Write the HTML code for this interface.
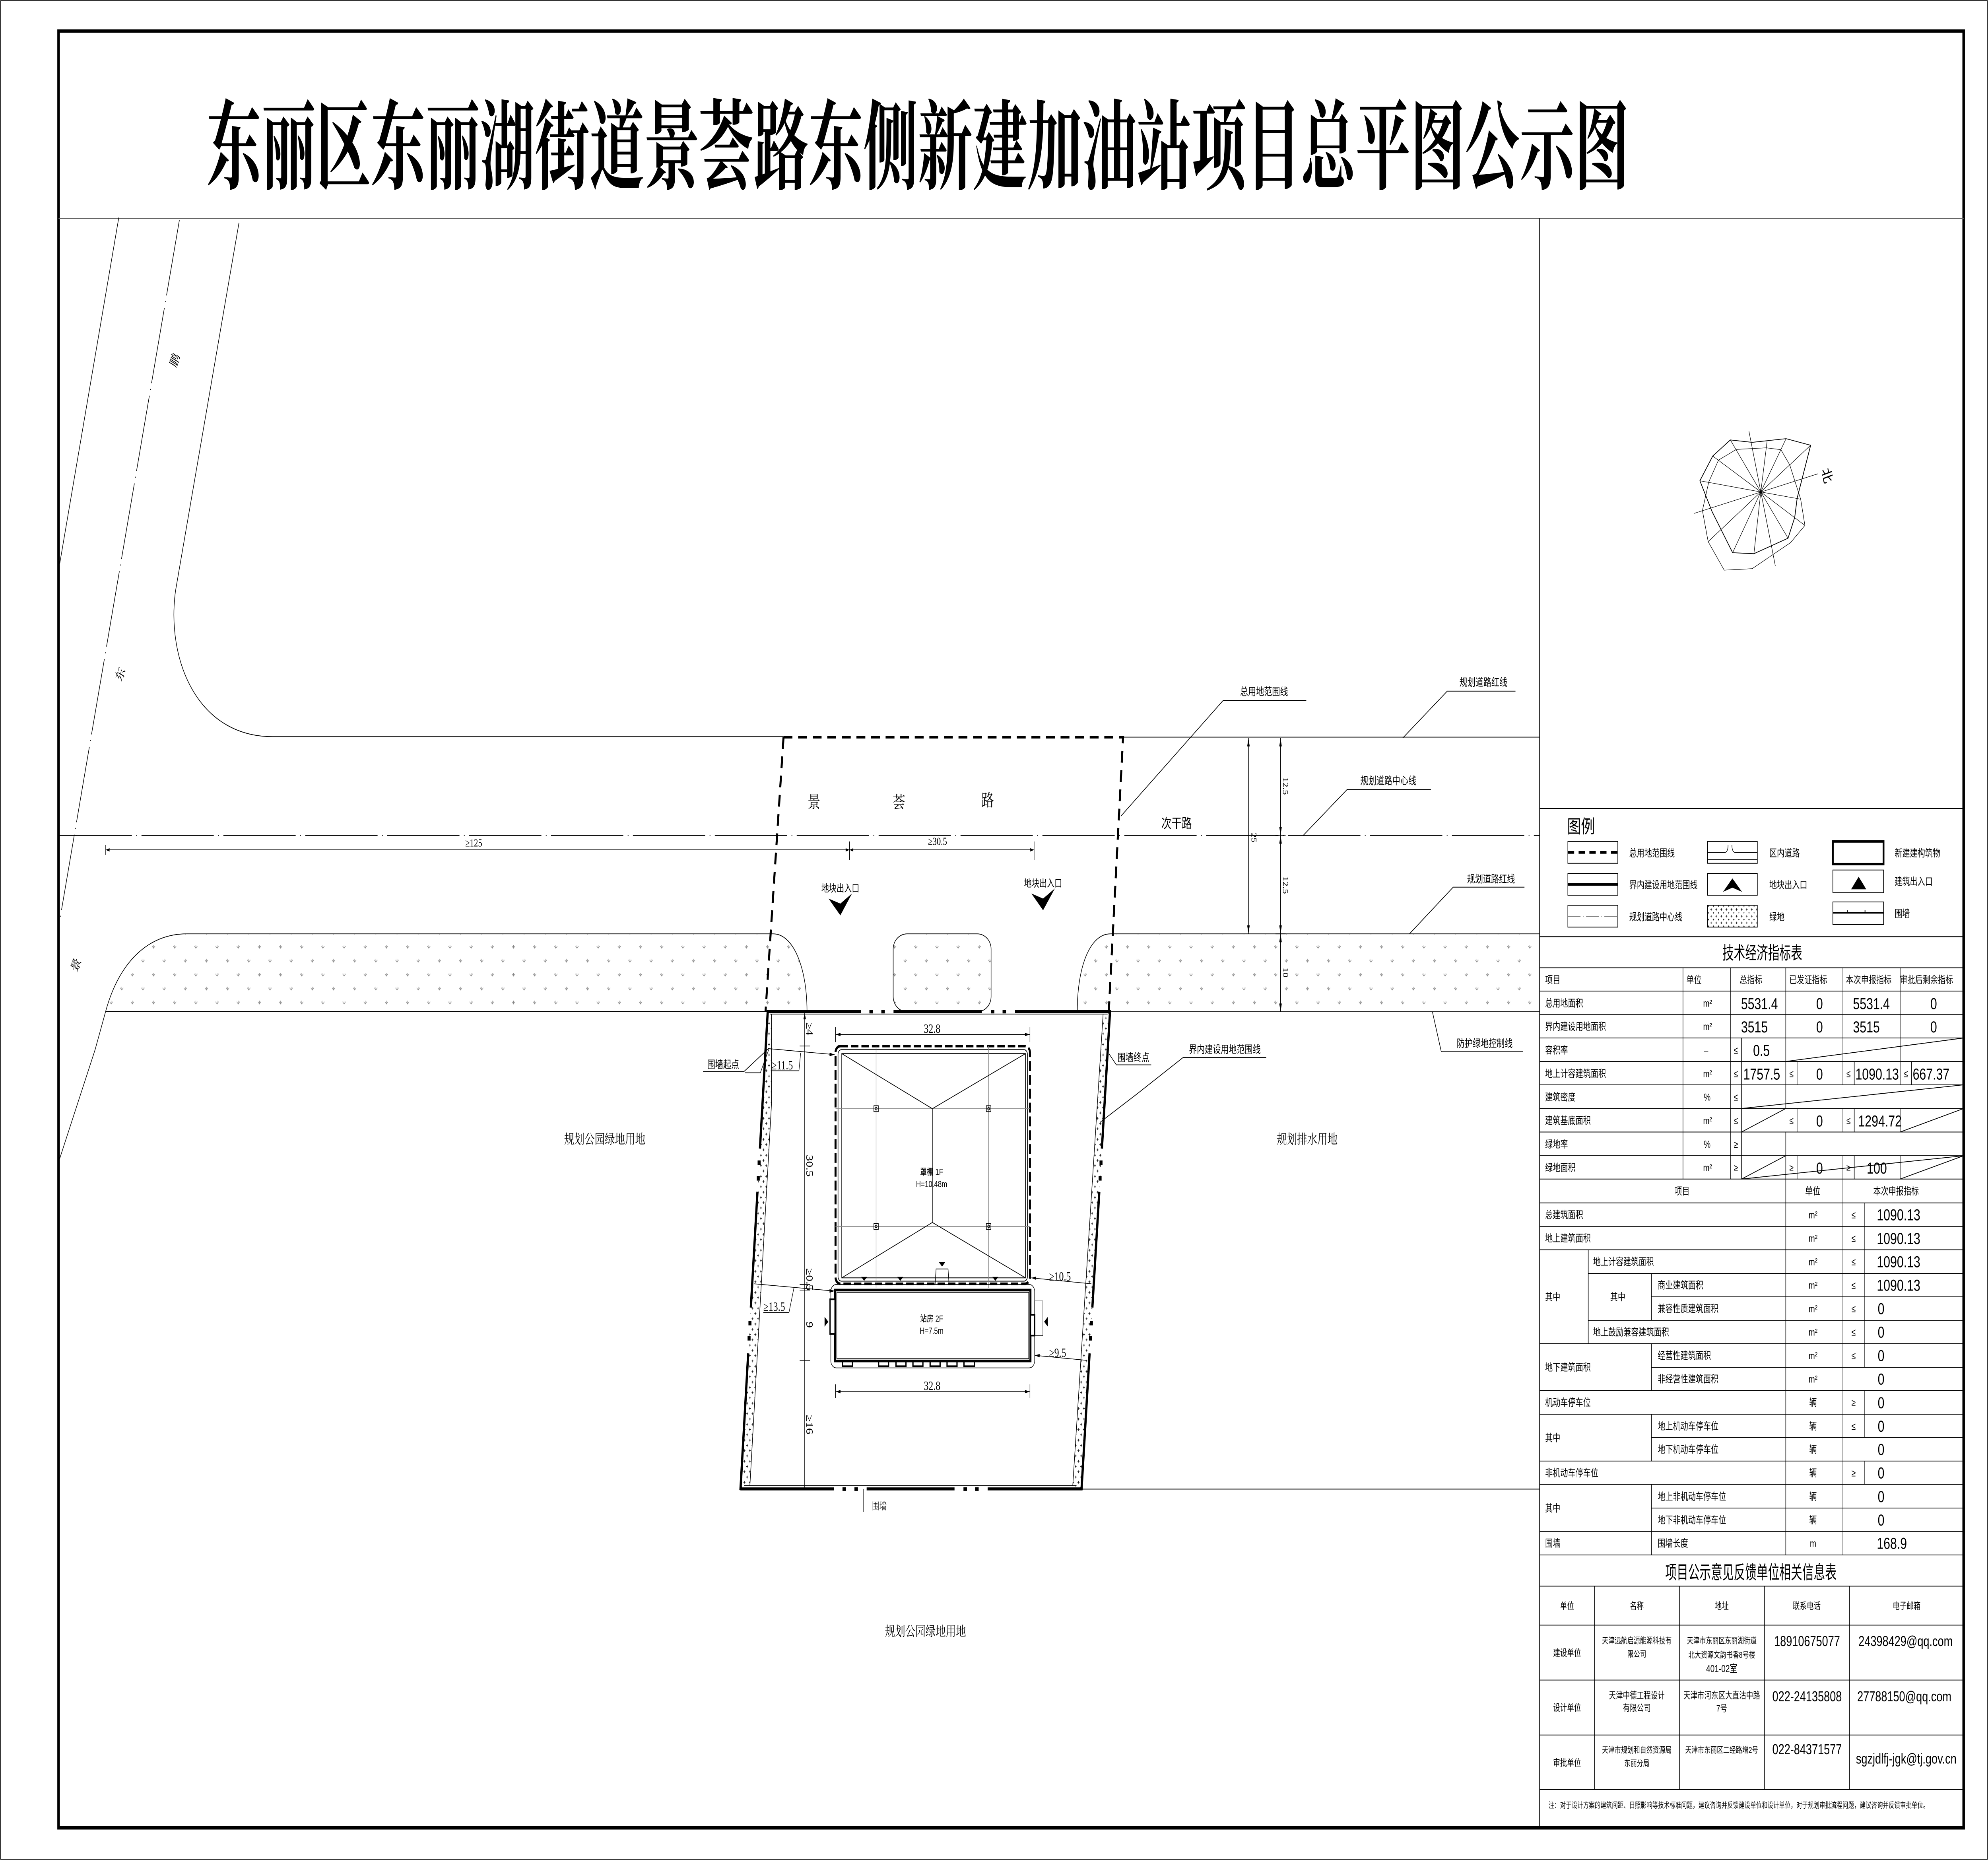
<!DOCTYPE html>
<html><head><meta charset="utf-8"><style>
html,body{margin:0;padding:0;background:#fff;overflow:hidden;width:100vw;height:100vh}
svg{display:block;position:fixed;left:0;top:0;width:100vw;height:100vh}
.s{font-family:"Liberation Sans","Noto Sans CJK SC",sans-serif}
.r{font-family:"Liberation Serif","Noto Serif CJK SC",serif}
.n{font-family:"Liberation Sans Narrow","Liberation Sans",sans-serif}
</style></head><body>
<svg xmlns="http://www.w3.org/2000/svg" viewBox="0 0 1568 1107.43" preserveAspectRatio="none">
<defs>
<pattern id="grass" patternUnits="userSpaceOnUse" width="16.7" height="16.6" patternTransform="translate(0,560)">
<path d="M3,3.2 L4.2,4.6 L5.4,3.2 M4.2,2.6 L4.2,4.6 M11.35,11.5 L12.55,12.9 L13.75,11.5 M12.55,10.9 L12.55,12.9" stroke="#888" stroke-width="0.35" fill="none"/>
</pattern>
<pattern id="plus" patternUnits="userSpaceOnUse" width="22" height="32">
<path d="M4,8 h8 M8,4 v8 M15,24 h8 M19,20 v8" stroke="#000" stroke-width="2"/>
</pattern>
<pattern id="plus2" patternUnits="userSpaceOnUse" width="4" height="4">
<path d="M1,1.5 h1.4 M1.7,0.8 v1.4 M3,3.5 h1 M3.5,3 v1" stroke="#000" stroke-width="0.3"/>
</pattern>
</defs>
<rect x="0" y="0" width="1568" height="1107.43" fill="#fff"/>
<rect x="0.4" y="0.4" width="1567.2" height="1106.6" fill="none" stroke="#000" stroke-width="0.4"/>
<rect x="46.2" y="18.5" width="1502.6" height="1069.8" fill="none" stroke="#000" stroke-width="2"/>
<line x1="46.2" y1="130" x2="1548.8" y2="130" stroke="#666" stroke-width="0.5"/>
<line x1="1214.3" y1="130" x2="1214.3" y2="1088.3" stroke="#000" stroke-width="0.5"/>
<text class="r" x="163" y="108" font-size="58" font-weight="700" textLength="1122" lengthAdjust="spacingAndGlyphs">东丽区东丽湖街道景荟路东侧新建加油站项目总平图公示图</text>

<g stroke="#000" stroke-width="0.45" fill="none">
<line x1="93.7" y1="129.5" x2="47.1" y2="335.6"/>
<line x1="141.5" y1="131" x2="47.1" y2="548" stroke-dasharray="46 3.5 0.6 3.5"/>
<path d="M188.5,132.6 L138.5,351.5 C131,392 155,438.6 215,438.6 L618,438.6"/>
<line x1="885.8" y1="438.9" x2="1214.3" y2="438.9"/>
<line x1="47" y1="497.5" x2="1214.3" y2="497.5" stroke-dasharray="57 3.5 0.6 3.5"/>
<line x1="83.4" y1="506" x2="815.6" y2="506"/>
<line x1="83.4" y1="503" x2="83.4" y2="509"/>
<line x1="670" y1="501" x2="670" y2="512"/>
<line x1="815.6" y1="501" x2="815.6" y2="512"/>
<path d="M147,556 L609.9,556"/>
<path d="M875.8,556 L1214.3,556"/>
<line x1="83.4" y1="602.2" x2="605.6" y2="602.2"/>
<line x1="853" y1="886.6" x2="1214.3" y2="886.6"/>
<line x1="874.5" y1="602.4" x2="1214.3" y2="602.4"/>
<path d="M83.4,602 L75,625 L47,690"/>
</g>
<g fill="#000">
<path d="M83.4,506 l3,-1 v2z M670,506 l-3,-1 v2z M670,506 l3,-1 v2z M815.6,506 l-3,-1 v2z"/>
</g>
<text class="r" x="367" y="504" font-size="6.5">≥125</text>
<text class="r" x="732" y="503" font-size="6.5">≥30.5</text>
<text class="r" x="136" y="221" font-size="8" transform="rotate(-65 136 218)">鹏</text>
<text class="r" x="93" y="408" font-size="8" transform="rotate(-65 93 405)">东</text>
<text class="r" x="58" y="581" font-size="8" transform="rotate(-65 58 578)">景</text>

<path d="M83.4,602 C95,570 120,556 147,556 L609.9,556 C625,556 636.5,575 636.5,602 Z" fill="url(#grass)" stroke="none"/>
<path d="M875.8,556 C860,556 849.7,575 849.7,602 L1214,602 L1214,556 Z" fill="url(#grass)" stroke="none"/>
<rect x="704.5" y="556" width="77.2" height="46.4" rx="11" ry="9" fill="url(#grass)" stroke="#000" stroke-width="0.45"/>
<g stroke="#000" stroke-width="0.45" fill="none">
<path d="M83.4,602 C95,570 120,556 147,556"/>
<path d="M609.9,556 C625,556 636.5,575 636.5,602"/>
<path d="M875.8,556 C860,556 849.7,575 849.7,602"/>
</g>

<path d="M618,438.9 L885.8,438.9 L874.5,602.4 M618,438.9 L603.8,602.2" fill="none" stroke="#000" stroke-width="1.6" stroke-dasharray="7 4.5"/>
<text class="r" x="642" y="481" font-size="10" text-anchor="middle">景</text>
<text class="r" x="709" y="481" font-size="10" text-anchor="middle">荟</text>
<text class="r" x="779" y="480" font-size="10" text-anchor="middle">路</text>
<text class="s" x="928" y="493" font-size="8" text-anchor="middle">次干路</text>
<text class="s" x="662.8" y="531" font-size="6" text-anchor="middle">地块出入口</text>
<text class="s" x="822.7" y="528" font-size="6" text-anchor="middle">地块出入口</text>
<polygon points="653.5,535 662.8,538 672,532 662.8,545" fill="#000"/>
<polygon points="813.5,532 822.7,535 832,529 822.7,542" fill="#000"/>

<g stroke="#000" stroke-width="0.45" fill="none">
<polyline points="884,486 964.8,417 1030.3,417"/>
<polyline points="1106.4,439.4 1141.5,411.5 1195.3,411.5"/>
<polyline points="1028,497.3 1062.6,470 1128.6,470"/>
<polyline points="1111.7,556 1146.2,528.2 1202.4,528.2"/>
<polyline points="1129.8,602.5 1136.8,626.2 1201.2,626.2"/>
<polyline points="868,668 897,651.2 933.2,629.6 998.7,629.6"/>
<polyline points="874.7,627.4 880.5,634 908,634"/>
<polyline points="606.4,624.1 586.8,638 554.5,638"/>
<line x1="984.7" y1="439.4" x2="984.7" y2="556"/>
<line x1="1010" y1="439.4" x2="1010" y2="602.5"/>
<line x1="1006" y1="497.3" x2="1014" y2="497.3"/>
<line x1="1006" y1="556" x2="1014" y2="556"/>
</g>
<g fill="#000">
<path d="M984.7,439.4 l-1,5 h2z M984.7,556 l-1,-5 h2z M1010,439.4 l-1,5 h2z M1010,497.3 l-1,-5 h2z M1010,497.3 l-1,5 h2z M1010,556 l-1,-5 h2z M1010,556 l-1,5 h2z M1010,602.5 l-1,-5 h2z"/>
</g>
<text class="r" x="987" y="498.7" font-size="6" transform="rotate(90 987 498.7)" text-anchor="middle">25</text>
<text class="r" x="1012" y="468" font-size="6" transform="rotate(90 1012 468)" text-anchor="middle">12.5</text>
<text class="r" x="1012" y="527" font-size="6" transform="rotate(90 1012 527)" text-anchor="middle">12.5</text>
<text class="r" x="1012" y="579" font-size="6" transform="rotate(90 1012 579)" text-anchor="middle">10</text>
<g class="s" font-size="6.3">
<text x="997" y="414" text-anchor="middle">总用地范围线</text>
<text x="1170" y="408.5" text-anchor="middle">规划道路红线</text>
<text x="1095" y="467" text-anchor="middle">规划道路中心线</text>
<text x="1176" y="525.5" text-anchor="middle">规划道路红线</text>
<text x="1171" y="623.5" text-anchor="middle">防护绿地控制线</text>
<text x="966" y="627" text-anchor="middle">界内建设用地范围线</text>
<text x="894" y="631.8" text-anchor="middle">围墙终点</text>
<text x="570.4" y="636" text-anchor="middle">围墙起点</text>
</g>
<g class="r" font-size="8" text-anchor="middle">
<text x="477" y="681">规划公园绿地用地</text>
<text x="1031" y="681">规划排水用地</text>
<text x="730" y="974">规划公园绿地用地</text>
</g>

<g transform="translate(568.3,591.98) scale(0.19634)">
<path d="M190,52 L190,60 L205,60 L205,330 L118,1490 L95,1490 L80,1500 Z" fill="url(#plus)" stroke="none" opacity="0.9"/>
<path d="M1565,52 L1537,60 L1415,1490 L1450,1500 Z" fill="url(#plus)" stroke="none" opacity="0.9"/>
<g stroke="#000" stroke-width="2.3" fill="none">
<polyline points="205,60 205,330 118,1490"/>
<line x1="1537" y1="60" x2="1415" y2="1490"/>
<line x1="95" y1="1490" x2="1430" y2="1490"/>
<line x1="198" y1="60" x2="1555" y2="60"/>
</g>
<g stroke="#000" stroke-width="9" fill="none">
<line x1="190" y1="52" x2="565" y2="52"/><line x1="695" y1="52" x2="1050" y2="52"/><line x1="1183" y1="52" x2="1565" y2="52"/>
<line x1="80" y1="1500" x2="455" y2="1500"/><line x1="587" y1="1500" x2="940" y2="1500"/><line x1="1073" y1="1500" x2="1452" y2="1500"/>
<line x1="190" y1="48" x2="158.4" y2="468"/><line x1="148.4" y1="599" x2="121.8" y2="950"/><line x1="111.2" y1="1089" x2="80" y2="1504"/>
<line x1="1565" y1="48" x2="1532" y2="468"/><line x1="1521.6" y1="599" x2="1493.7" y2="950"/><line x1="1482.6" y1="1089" x2="1450" y2="1504"/>
</g>
<g fill="#000">
<rect x="598" y="47" width="14" height="11"/><rect x="646" y="47" width="14" height="11"/>
<rect x="1086" y="47" width="14" height="11"/><rect x="1133" y="47" width="14" height="11"/>
<rect x="490" y="1495" width="14" height="11"/><rect x="538" y="1495" width="14" height="11"/>
<rect x="976" y="1495" width="14" height="11"/><rect x="1023" y="1495" width="14" height="11"/>
<rect x="149" y="504" width="12" height="14"/><rect x="145.6" y="551" width="12" height="14"/>
<rect x="112.2" y="990" width="12" height="14"/><rect x="108.7" y="1036" width="12" height="14"/>
<rect x="1522.5" y="504" width="12" height="14"/><rect x="1518.8" y="551" width="12" height="14"/>
<rect x="1484" y="990" width="12" height="14"/><rect x="1480.3" y="1036" width="12" height="14"/>
</g>
<rect x="462" y="157" width="781" height="721" rx="20" fill="none" stroke="#000" stroke-width="8" stroke-dasharray="30 12"/>
<rect x="472" y="168" width="761" height="702" rx="14" fill="none" stroke="#000" stroke-width="2.5"/>
<rect x="487" y="180" width="738" height="680" fill="none" stroke="#000" stroke-width="2.5"/>
<g stroke="#888" stroke-width="2" fill="none">
<line x1="625" y1="157" x2="625" y2="890"/><line x1="1077" y1="157" x2="1077" y2="890"/>
<line x1="462" y1="347" x2="1243" y2="347"/><line x1="462" y1="704" x2="1243" y2="704"/>
</g>
<g stroke="#000" stroke-width="2.2" fill="none">
<polyline points="487,180 851,347 1225,180"/><line x1="851" y1="347" x2="851" y2="692"/>
<polyline points="487,860 851,692 1225,860"/>
<rect x="616" y="338" width="18" height="18"/><rect x="1068" y="338" width="18" height="18"/>
<rect x="616" y="695" width="18" height="18"/><rect x="1068" y="695" width="18" height="18"/>
<circle cx="625" cy="347" r="4"/><circle cx="1077" cy="347" r="4"/><circle cx="625" cy="704" r="4"/><circle cx="1077" cy="704" r="4"/>
<polyline points="862,880 866,833 914,833 918,880"/>
</g>
<g fill="#000">
<polygon points="565,857 589,857 577,869"/><polygon points="710,857 734,857 722,869"/><polygon points="1092,857 1116,857 1104,869"/>
<polygon points="877,812 903,812 890,826"/>
<polygon points="418,978 433,993 418,1008"/><polygon points="1315,978 1300,993 1315,1008"/>
</g>
<text class="s" x="848" y="548" font-size="27" text-anchor="middle">罩棚 1F</text>
<text class="s" x="848" y="585" font-size="27" text-anchor="middle">H=10.48m</text>
<rect x="443" y="880" width="819" height="253" rx="22" fill="none" stroke="#000" stroke-width="2"/>
<rect x="460" y="897" width="785" height="215" fill="#fff" stroke="#000" stroke-width="8"/>
<rect x="467" y="904" width="771" height="201" fill="none" stroke="#000" stroke-width="2"/>
<g stroke="#000" stroke-width="5" fill="#fff">
<rect x="440" y="925" width="20" height="105"/><rect x="1245" y="972" width="17" height="63"/>
</g>
<rect x="1262" y="930" width="33" height="105" fill="none" stroke="#000" stroke-width="1.5"/>
<g stroke="#000" stroke-width="5" fill="none">
<rect x="490" y="1112" width="40" height="16"/><rect x="635" y="1112" width="40" height="16"/><rect x="705" y="1112" width="40" height="16"/><rect x="773" y="1112" width="40" height="16"/><rect x="842" y="1112" width="40" height="16"/><rect x="910" y="1112" width="40" height="16"/><rect x="978" y="1112" width="42" height="16"/>
</g>
<text class="s" x="848" y="993" font-size="27" text-anchor="middle">站房 2F</text>
<text class="s" x="848" y="1030" font-size="27" text-anchor="middle">H=7.5m</text>
<g stroke="#000" stroke-width="2" fill="none">
<line x1="462" y1="122" x2="1243" y2="122"/><line x1="462" y1="100" x2="462" y2="145"/><line x1="1243" y1="100" x2="1243" y2="145"/>
<line x1="462" y1="1205" x2="1243" y2="1205"/><line x1="462" y1="1183" x2="462" y2="1225"/><line x1="1243" y1="1183" x2="1243" y2="1225"/>
<line x1="338" y1="56" x2="338" y2="1500"/>
<line x1="318" y1="157" x2="360" y2="157"/><line x1="318" y1="880" x2="360" y2="880"/><line x1="318" y1="897" x2="360" y2="897"/><line x1="318" y1="1110" x2="360" y2="1110"/>
<polyline points="98,238 160,238 195,165 458,183"/><polyline points="205,232 315,232 322,178"/>
<polyline points="135,878 458,900"/><polyline points="172,965 275,965 295,890"/>
<line x1="1248" y1="860" x2="1490" y2="878"/><line x1="1262" y1="1095" x2="1470" y2="1110"/>
<line x1="575" y1="1500" x2="575" y2="1570"/>
</g>
<g fill="#000">
<path d="M462,122 l20,-5 v10z M1243,122 l-20,-5 v10z M462,1205 l20,-5 v10z M1243,1205 l-20,-5 v10z M458,183 l-20,-6 l0,11z M458,900 l-20,-6 l0,11z M1248,860 l20,-4 l0,10z M1262,1095 l20,-4 l0,10z M338,56 l-5,20 h10z"/>
</g>
<g class="r" font-size="38">
<text x="850" y="117" text-anchor="middle">32.8</text>
<text x="850" y="1200" text-anchor="middle">32.8</text>
<text x="205" y="228">≥11.5</text>
<text x="172" y="960">≥13.5</text>
<text x="1320" y="868">≥10.5</text>
<text x="1320" y="1100">≥9.5</text>
<text x="608" y="1563" font-size="30">围墙</text>
<text x="345" y="105" transform="rotate(90 345 105)" text-anchor="middle">≥4</text>
<text x="345" y="520" transform="rotate(90 345 520)" text-anchor="middle">30.5</text>
<text x="345" y="865" transform="rotate(90 345 865)" text-anchor="middle">≥0.5</text>
<text x="345" y="1002" transform="rotate(90 345 1002)" text-anchor="middle">9</text>
<text x="345" y="1305" transform="rotate(90 345 1305)" text-anchor="middle">≥16</text>
</g>
</g>

<g transform="translate(1314.2,236.79) scale(0.09063,0.07551)" fill="none" stroke="#000">
<polygon vector-effect="non-scaling-stroke" stroke-width="1.8" points="558,333 748,352 1043,323 1257,375 1140,790 1118,945 1060,1108 763,1230 578,1222 400,900 293,655 405,460"/>
<polygon vector-effect="non-scaling-stroke" stroke-width="1.2" points="610,408 870,395 998,410 1075,530 1170,800 1207,1007 1082,1143 748,1348 505,1360 365,1135 315,890 370,665 455,492"/>
<path vector-effect="non-scaling-stroke" stroke-width="1.2" d="M823,743 L558,333 M720,265 L950,1328 M823,743 L878,343 M823,743 L1043,323 M823,743 L1257,375 M1320,600 L240,913 M823,743 L1170,800 M823,743 L1207,1007 M823,743 L1060,1108 M823,743 L763,1232 M823,743 L578,1222 M823,743 L365,1135 M823,743 L293,655 M823,743 L405,460"/>
</g>
<text class="s" x="1438" y="284" font-size="9" transform="rotate(74 1438 284)" text-anchor="middle">北</text>

<line x1="1214.3" y1="481.4" x2="1548.8" y2="481.4" stroke="#000" stroke-width="0.5"/>
<text class="s" x="1236" y="496" font-size="11">图例</text>
<g stroke="#000" stroke-width="0.45" fill="#fff">
<rect x="1236.6" y="501" width="39.4" height="13"/><rect x="1346.7" y="501" width="39.4" height="13"/>
<rect x="1236.6" y="520" width="39.4" height="13"/><rect x="1346.7" y="520" width="39.4" height="13"/><rect x="1445.6" y="518" width="40" height="13.5"/>
<rect x="1236.6" y="539" width="39.4" height="13"/><rect x="1346.7" y="539" width="39.4" height="13" fill="url(#plus2)"/><rect x="1445.6" y="537" width="40" height="13.5"/>
</g>
<rect x="1445.6" y="501" width="40" height="13.5" fill="none" stroke="#000" stroke-width="1.4"/>
<line x1="1236.6" y1="507.5" x2="1276" y2="507.5" stroke="#000" stroke-width="1.6" stroke-dasharray="5 3.5"/>
<line x1="1236.6" y1="526.5" x2="1276" y2="526.5" stroke="#000" stroke-width="1.6"/>
<line x1="1236.6" y1="545.5" x2="1276" y2="545.5" stroke="#000" stroke-width="0.3" stroke-dasharray="10 2 0.4 2"/>
<path d="M1346.7,507.6 L1360,507.6 Q1363,507.6 1363,503 M1366,503 Q1366,507.6 1369,507.6 L1386,507.6 M1346.7,511.8 L1386,511.8" fill="none" stroke="#000" stroke-width="0.4"/>
<polygon points="1359,531 1366.4,523 1374,531 1366.4,528.5" fill="#000"/>
<polygon points="1460,529.5 1466,522 1472,529.5" fill="#000"/>
<line x1="1445.6" y1="543.5" x2="1485.6" y2="543.5" stroke="#000" stroke-width="0.9"/>
<path d="M1457,543.5 v-1.5 M1471,543.5 v-1.5" stroke="#000" stroke-width="0.6"/>
<g class="s" font-size="6">
<text x="1285" y="510">总用地范围线</text><text x="1395.5" y="510">区内道路</text><text x="1494.4" y="510">新建建构筑物</text>
<text x="1285" y="529">界内建设用地范围线</text><text x="1395.5" y="529">地块出入口</text><text x="1494.4" y="527">建筑出入口</text>
<text x="1285" y="548">规划道路中心线</text><text x="1395.5" y="548">绿地</text><text x="1494.4" y="546">围墙</text>
</g>
<line x1="1214.3" y1="557.7" x2="1548.8" y2="557.7" stroke="#000" stroke-width="0.5"/>
<text class="s" x="1390" y="571" font-size="10.5" text-anchor="middle" textLength="63" lengthAdjust="spacingAndGlyphs">技术经济指标表</text>

<g stroke="#000" stroke-width="0.45" fill="none">
<path d="M1214.3,576.2 H1548.8 M1214.3,590.1 H1548.8 M1214.3,604.1 H1548.8 M1214.3,618 H1548.8 M1214.3,632 H1548.8 M1214.3,645.9 H1548.8 M1214.3,660 H1548.8 M1214.3,674 H1548.8 M1214.3,688.1 H1548.8 M1214.3,702 H1548.8"/>
<path d="M1327.4,576.2 V702 M1364.8,576.2 V702 M1408.5,576.2 V632 M1408.5,645.9 V660 M1408.5,674 V688.1 M1408.5,688.1 V702 M1453.6,576.2 V632 M1453.6,632 V645.9 M1453.6,660 V674 M1453.6,688.1 V702 M1498.7,576.2 V645.9 M1498.7,660 V674 M1498.7,688.1 V702 M1408.5,632 V645.9"/>
<path d="M1373.6,618 V702 M1417.4,632 V645.9 M1417.4,660 V674 M1417.4,688.1 V702 M1462.5,632 V645.9 M1462.5,660 V674 M1462.5,688.1 V702 M1507.6,632 V645.9"/>
<path d="M1408.5,632 L1548.8,618 M1373.6,660 L1548.8,645.9 M1373.6,674 L1408.5,660 M1498.7,674 L1548.8,660 M1373.6,702 L1548.8,688.1 M1373.6,702 L1408.5,688.1 M1498.7,702 L1548.8,688.1"/>
</g>
<g class="s" font-size="6">
<text x="1218.7" y="585.5">项目</text><text x="1330.1" y="585.5">单位</text><text x="1372" y="585.5">总指标</text><text x="1411.2" y="585.5">已发证指标</text><text x="1455.9" y="585.5">本次申报指标</text><text x="1498.5" y="585.5">审批后剩余指标</text>
<text x="1218.7" y="599.4">总用地面积</text><text x="1218.7" y="613.3">界内建设用地面积</text><text x="1218.7" y="627.3">容积率</text><text x="1218.7" y="641.3">地上计容建筑面积</text><text x="1218.7" y="655.3">建筑密度</text><text x="1218.7" y="669.3">建筑基底面积</text><text x="1218.7" y="683.3">绿地率</text><text x="1218.7" y="697.3">绿地面积</text>
</g>
<g class="s" font-size="6">
<text x="1343.3" y="599.4">m²</text><text x="1343.3" y="613.3">m²</text><text x="1344" y="627.3">–</text><text x="1343.3" y="641.3">m²</text><text x="1343.8" y="655.3">%</text><text x="1343.3" y="669.3">m²</text><text x="1343.8" y="683.3">%</text><text x="1343.3" y="697.3">m²</text>
<g text-anchor="middle">
<text x="1369.2" y="627.3">≤</text><text x="1369.2" y="641.3">≤</text><text x="1413" y="641.3">≤</text><text x="1458" y="641.3">≤</text><text x="1503.2" y="641.3">≤</text>
<text x="1369.2" y="655.3">≤</text><text x="1369.2" y="669.3">≤</text><text x="1413" y="669.3">≤</text><text x="1458" y="669.3">≤</text>
<text x="1369.2" y="683.3">≥</text><text x="1369.2" y="697.3">≥</text><text x="1413" y="697.3">≥</text><text x="1458" y="697.3">≥</text>
</g>
</g>
<g class="n" font-size="9.5">
<text x="1373.2" y="600.8">5531.4</text><text x="1432.5" y="600.8">0</text><text x="1461.5" y="600.8">5531.4</text><text x="1522.5" y="600.8">0</text>
<text x="1373.2" y="614.7">3515</text><text x="1432.5" y="614.7">0</text><text x="1461.5" y="614.7">3515</text><text x="1522.5" y="614.7">0</text>
<text x="1382.7" y="628.7">0.5</text>
<text x="1375" y="642.7">1757.5</text><text x="1432.5" y="642.7">0</text><text x="1463.4" y="642.7">1090.13</text><text x="1508.6" y="642.7">667.37</text>
<text x="1432.5" y="670.7">0</text><text x="1465.6" y="670.7">1294.72</text>
<text x="1432.5" y="698.7">0</text><text x="1472.4" y="698.7">100</text>
</g>

<g stroke="#000" stroke-width="0.45" fill="none">
<path d="M1214.3,716.2 H1548.8 M1214.3,730.3 H1548.8 M1214.3,744.1 H1548.8 M1252.7,758.2 H1548.8 M1302.5,772.1 H1548.8 M1252.7,786.1 H1548.8 M1214.3,800 H1548.8 M1302.5,814.1 H1548.8 M1214.3,827.9 H1548.8 M1214.3,842 H1548.8 M1302.5,855.9 H1548.8 M1214.3,869.9 H1548.8 M1214.3,883.8 H1548.8 M1302.5,897.9 H1548.8 M1214.3,911.9 H1548.8 M1214.3,925.8 H1548.8"/>
<path d="M1408.5,702 V925.8 M1453.6,702 V925.8 M1252.7,744.1 V800 M1302.5,758.2 V786.1 M1302.5,800 V827.9 M1302.5,842 V869.9 M1302.5,883.8 V925.8"/>
<path d="M1470.8,716.2 V814.1 M1470.8,827.9 V855.9 M1470.8,869.9 V883.8"/>
</g>
<g class="s" font-size="6">
<text x="1326.7" y="711.3" text-anchor="middle">项目</text><text x="1429.8" y="711.3" text-anchor="middle">单位</text><text x="1495.5" y="711.3" text-anchor="middle">本次申报指标</text>
<text x="1218.7" y="725.4">总建筑面积</text><text x="1218.7" y="739.4">地上建筑面积</text>
<text x="1218.7" y="774.3">其中</text><text x="1256.5" y="753.3">地上计容建筑面积</text>
<text x="1270" y="774.3">其中</text><text x="1307.5" y="767.3">商业建筑面积</text><text x="1307.5" y="781.3">兼容性质建筑面积</text>
<text x="1256.5" y="795.2">地上鼓励兼容建筑面积</text>
<text x="1218.7" y="816.2">地下建筑面积</text><text x="1307.5" y="809.2">经营性建筑面积</text><text x="1307.5" y="823.2">非经营性建筑面积</text>
<text x="1218.7" y="837.2">机动车停车位</text>
<text x="1218.7" y="858.2">其中</text><text x="1307.5" y="851.2">地上机动车停车位</text><text x="1307.5" y="865.1">地下机动车停车位</text>
<text x="1218.7" y="879">非机动车停车位</text>
<text x="1218.7" y="900.1">其中</text><text x="1307.5" y="893.1">地上非机动车停车位</text><text x="1307.5" y="907.1">地下非机动车停车位</text>
<text x="1218.7" y="921">围墙</text><text x="1307.5" y="921">围墙长度</text>
<g text-anchor="middle">
<text x="1430" y="725.4">m²</text><text x="1430" y="739.4">m²</text><text x="1430" y="753.3">m²</text><text x="1430" y="767.3">m²</text><text x="1430" y="781.3">m²</text><text x="1430" y="795.2">m²</text><text x="1430" y="809.2">m²</text><text x="1430" y="823.2">m²</text>
<text x="1430" y="837.2">辆</text><text x="1430" y="851.2">辆</text><text x="1430" y="865.1">辆</text><text x="1430" y="879">辆</text><text x="1430" y="893.1">辆</text><text x="1430" y="907.1">辆</text><text x="1430" y="921">m</text>
<text x="1462" y="725.4">≤</text><text x="1462" y="739.4">≤</text><text x="1462" y="753.3">≤</text><text x="1462" y="767.3">≤</text><text x="1462" y="781.3">≤</text><text x="1462" y="795.2">≤</text><text x="1462" y="809.2">≤</text>
<text x="1462" y="837.2">≥</text><text x="1462" y="851.2">≤</text><text x="1462" y="879">≥</text>
</g>
</g>
<g class="n" font-size="9.5">
<text x="1480.3" y="726.6">1090.13</text><text x="1480.3" y="740.6">1090.13</text><text x="1480.3" y="754.5">1090.13</text><text x="1480.3" y="768.5">1090.13</text>
<text x="1481" y="782.5">0</text><text x="1481" y="796.4">0</text><text x="1481" y="810.4">0</text><text x="1481" y="824.4">0</text><text x="1481" y="838.4">0</text><text x="1481" y="852.4">0</text><text x="1481" y="866.3">0</text><text x="1481" y="880.2">0</text><text x="1481" y="894.3">0</text><text x="1481" y="908.3">0</text>
<text x="1480.3" y="922.2">168.9</text>
</g>

<text class="s" x="1381" y="940" font-size="11" text-anchor="middle" textLength="135" lengthAdjust="spacingAndGlyphs">项目公示意见反馈单位相关信息表</text>
<g stroke="#000" stroke-width="0.45" fill="none">
<path d="M1214.3,944.4 H1548.8 M1214.3,967.6 H1548.8 M1214.3,1000.3 H1548.8 M1214.3,1033 H1548.8 M1214.3,1065.5 H1548.8"/>
<path d="M1257.6,944.4 V1065.5 M1324.7,944.4 V1065.5 M1391.7,944.4 V1065.5 M1458.8,944.4 V1065.5"/>
</g>
<g class="s" font-size="5.5" text-anchor="middle">
<text x="1236" y="958">单位</text><text x="1291" y="958">名称</text><text x="1358" y="958">地址</text><text x="1425" y="958">联系电话</text><text x="1503.8" y="958">电子邮箱</text>
<text x="1236" y="986">建设单位</text><text x="1236" y="1018.6">设计单位</text><text x="1236" y="1051.4">审批单位</text>
<text x="1291" y="978.5" font-size="5">天津远航启源能源科技有</text><text x="1291" y="986.5" font-size="5">限公司</text>
<text x="1358" y="978.5" font-size="5">天津市东丽区东丽湖街道</text><text x="1358" y="987" font-size="5">北大资源文韵书香8号楼</text><text x="1358" y="995.5" font-size="6">401-02室</text>
<text x="1291" y="1011.3">天津中德工程设计</text><text x="1291" y="1018.8">有限公司</text>
<text x="1358" y="1011.3">天津市河东区大直沽中路</text><text x="1358" y="1019">7号</text>
<text x="1291" y="1043.6" font-size="5">天津市规划和自然资源局</text><text x="1291" y="1051.6" font-size="5">东丽分局</text>
<text x="1358" y="1043.6" font-size="5">天津市东丽区二经路增2号</text>
</g>
<g class="n" font-size="8.5" text-anchor="middle">
<text x="1425.3" y="980">18910675077</text><text x="1503" y="980">24398429@qq.com</text>
<text x="1425.3" y="1013">022-24135808</text><text x="1502" y="1013">27788150@qq.com</text>
<text x="1425.3" y="1044.5">022-84371577</text><text x="1503.5" y="1050">sgzjdlfj-jgk@tj.gov.cn</text>
</g>
<text class="s" x="1221.4" y="1076.4" font-size="4.7" textLength="300" lengthAdjust="spacingAndGlyphs">注：对于设计方案的建筑间距、日照影响等技术标准问题，建议咨询并反馈建设单位和设计单位，对于规划审批流程问题，建议咨询并反馈审批单位。</text>
</svg>
</body></html>
